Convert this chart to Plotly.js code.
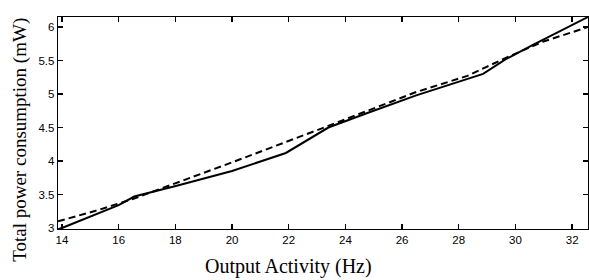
<!DOCTYPE html>
<html><head><meta charset="utf-8">
<script src="https://cdn.plot.ly/plotly-3.0.1.min.js"></script>
<style>html,body{margin:0;padding:0;background:#fff}#c{width:589px;height:280px}</style>
</head><body><div id="c"></div>
<script>
const solidX = [13.86, 14.0, 16.0, 16.55, 18.05, 20.0, 21.9, 23.4, 24.8, 26.5, 28.86, 29.66, 30.6, 32.56];
const solidY = [2.98, 3.0, 3.34, 3.47, 3.63, 3.85, 4.12, 4.5, 4.72, 4.98, 5.3, 5.52, 5.73, 6.15];
const dashX = [13.86, 15.3, 16.55, 18.05, 20.0, 23.0, 26.5, 28.3, 29.66, 30.96, 32.56];
const dashY = [3.1, 3.27, 3.44, 3.67, 3.98, 4.46, 5.03, 5.27, 5.54, 5.78, 6.0];
const xTicks = [14, 16, 18, 20, 22, 24, 26, 28, 30, 32];
const yTicks = [3, 3.5, 4, 4.5, 5, 5.5, 6];
const xTitle = "Output Activity (Hz)";
const yTitle = "Total power consumption (mW)";

const traces = [
  {x: solidX, y: solidY, mode: "lines", line: {color: "#000", width: 2}, hoverinfo: "skip"},
  {x: dashX, y: dashY, mode: "lines", line: {color: "#000", width: 2, dash: "7px,4px"}, hoverinfo: "skip"}
];
const axisCommon = {
  showline: true, linecolor: "#000", linewidth: 1.3, mirror: "ticks",
  ticks: "inside", ticklen: 5, tickcolor: "#000", tickwidth: 1.3,
  showgrid: false, zeroline: false,
  tickfont: {family: "Liberation Sans, Arial, sans-serif", size: 11.5, color: "#000"}
};
const xTitleFont = {family: "Liberation Serif, Times New Roman, serif", size: 20, color: "#000"};
const yTitleFont = {family: "Liberation Serif, Times New Roman, serif", size: 19, color: "#000"};
const layout = {
  width: 589, height: 280,
  margin: {l: 58, r: 1, t: 17, b: 51},
  paper_bgcolor: "#fff", plot_bgcolor: "#fff",
  showlegend: false,
  xaxis: Object.assign({}, axisCommon, {
    range: [13.86, 32.56], tickvals: xTicks, ticktext: xTicks.map(String)
  }),
  yaxis: Object.assign({}, axisCommon, {
    range: [2.985, 6.15], tickvals: yTicks, ticktext: yTicks.map(String)
  }),
  annotations: [
    {text: xTitle, xref: "paper", yref: "paper", x: 0.434, y: -0.175, xanchor: "center", yanchor: "middle", showarrow: false, font: xTitleFont},
    {text: yTitle, xref: "paper", yref: "paper", x: -0.072, y: 0.42, xanchor: "center", yanchor: "middle", textangle: -90, showarrow: false, font: yTitleFont}
  ]
};
Plotly.newPlot("c", traces, layout, {staticPlot: true, displayModeBar: false});
</script></body></html>
